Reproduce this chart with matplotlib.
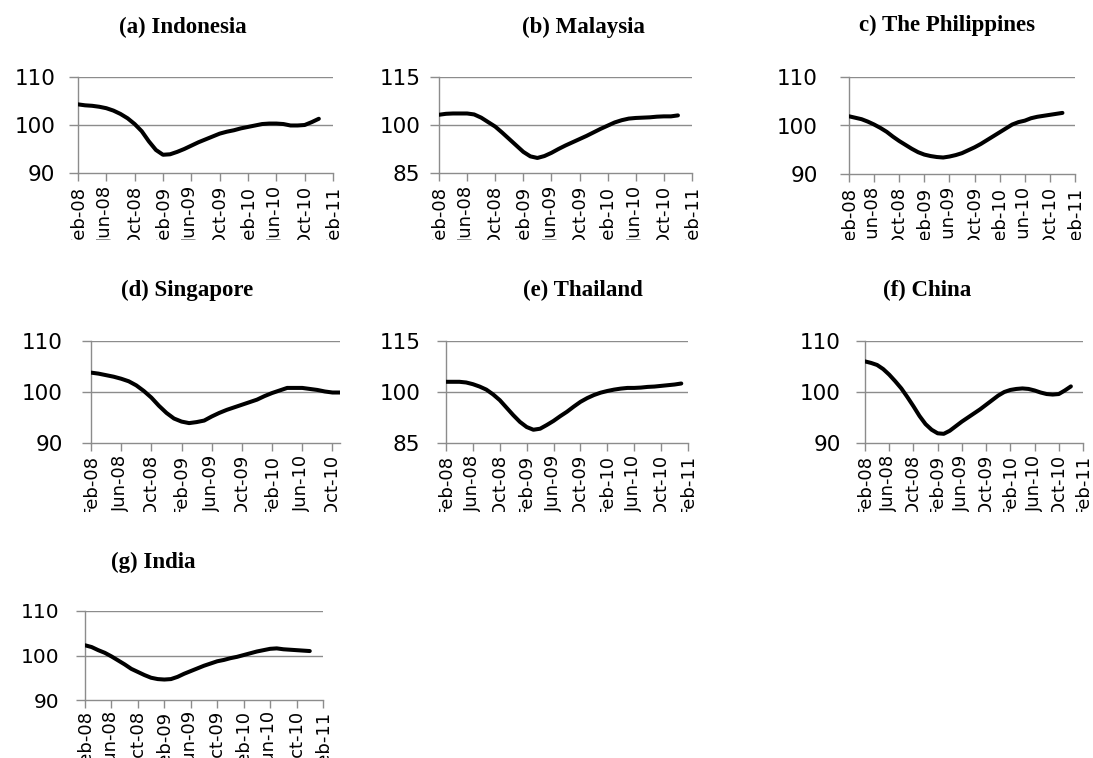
import matplotlib
matplotlib.use("Agg")
import matplotlib.pyplot as plt
from matplotlib.transforms import Bbox, TransformedBbox

# Monthly index values, starting Feb-08
indonesia = [104.3, 104.1, 104.0, 103.8, 103.5, 103.0, 102.3, 101.4, 100.2, 98.7,
             96.6, 94.8, 93.8, 93.9, 94.4, 95.0, 95.7, 96.4, 97.0, 97.6,
             98.2, 98.6, 98.9, 99.3, 99.6, 99.9, 100.2, 100.3, 100.3, 100.2,
             99.9, 99.9, 100.0, 100.6, 101.3]
malaysia = [103.2, 103.5, 103.6, 103.6, 103.6, 103.3, 102.3, 100.9, 99.5, 97.6,
            95.6, 93.6, 91.6, 90.2, 89.7, 90.3, 91.3, 92.5, 93.6, 94.6,
            95.6, 96.6, 97.7, 98.8, 99.8, 100.8, 101.5, 102.0, 102.2, 102.3,
            102.4, 102.6, 102.7, 102.7, 103.0]
philippines = [101.9, 101.6, 101.3, 100.8, 100.2, 99.5, 98.7, 97.7, 96.8, 96.0,
               95.2, 94.5, 94.0, 93.7, 93.5, 93.4, 93.6, 93.9, 94.3, 94.9,
               95.5, 96.2, 97.0, 97.8, 98.6, 99.4, 100.2, 100.7, 101.0, 101.5,
               101.8, 102.0, 102.2, 102.4, 102.6]
singapore = [103.8, 103.6, 103.3, 103.0, 102.6, 102.1, 101.3, 100.2, 98.9, 97.3,
             95.9, 94.8, 94.2, 93.9, 94.1, 94.4, 95.2, 95.9, 96.5, 97.0,
             97.5, 98.0, 98.5, 99.2, 99.8, 100.3, 100.8, 100.8, 100.8, 100.6,
             100.4, 100.1, 99.9, 99.9]
thailand = [103.0, 103.0, 103.0, 102.8, 102.3, 101.6, 100.7, 99.3, 97.6, 95.4,
            93.2, 91.2, 89.7, 88.9, 89.2, 90.3, 91.5, 92.9, 94.2, 95.7,
            97.1, 98.2, 99.1, 99.8, 100.3, 100.7, 101.0, 101.2, 101.2, 101.3,
            101.5, 101.6, 101.8, 102.0, 102.2, 102.5]
china = [106.0, 105.7, 105.3, 104.5, 103.4, 102.1, 100.7, 99.0, 97.2, 95.3,
         93.7, 92.6, 91.9, 91.8, 92.4, 93.3, 94.2, 95.0, 95.8, 96.6,
         97.5, 98.4, 99.3, 100.0, 100.4, 100.6, 100.7, 100.6, 100.3, 99.9,
         99.6, 99.5, 99.6, 100.3, 101.1]
india = [102.3, 101.9, 101.2, 100.6, 99.8, 98.9, 98.0, 97.0, 96.3, 95.6,
         95.0, 94.7, 94.6, 94.7, 95.2, 95.9, 96.5, 97.1, 97.7, 98.2,
         98.7, 99.0, 99.4, 99.7, 100.1, 100.5, 100.9, 101.2, 101.5, 101.6,
         101.4, 101.3, 101.2, 101.1, 101.0]

tick_labels = ["Feb-08", "Jun-08", "Oct-08", "Feb-09", "Jun-09", "Oct-09",
               "Feb-10", "Jun-10", "Oct-10", "Feb-11"]
titles = ["(a) Indonesia", "(b) Malaysia", "c) The Philippines", "(d) Singapore",
          "(e) Thailand", "(f) China", "(g) India"]

W, H = 1093, 758
fig = plt.figure(figsize=(W / 100, H / 100), dpi=100)
fig.patch.set_facecolor("white")

GRID = "#8c8c8c"

# panel layout in pixels: left, right, top, bottom, title centre, label clip line,
# tick label pads and y tick font size
panels = [
    dict(data=indonesia, yt=[90, 100, 110], box=(78, 333, 77, 173), tx=183, ty=27, clip=240, ypad=10, xpad=4.0, yfs=15.5, xmax=36),
    dict(data=malaysia, yt=[85, 100, 115], box=(439, 692, 77, 173), tx=583, ty=27, clip=240, ypad=7, xpad=4.0, yfs=15.5, xmax=36),
    dict(data=philippines, yt=[90, 100, 110], box=(849, 1075, 77, 174), tx=947, ty=25, clip=240, ypad=16, xpad=4.0, yfs=15.5, xmax=36),
    dict(data=singapore, yt=[90, 100, 110], box=(91, 340, 341, 443), tx=187, ty=290, clip=512, ypad=14, xpad=3.0, yfs=15.5, xmax=33),
    dict(data=thailand, yt=[85, 100, 115], box=(446, 688, 341, 443), tx=583, ty=290, clip=512, ypad=12, xpad=3.0, yfs=15.5, xmax=36),
    dict(data=china, yt=[90, 100, 110], box=(865, 1083, 341, 443), tx=927, ty=290, clip=512, ypad=11, xpad=3.0, yfs=15.5, xmax=36),
    dict(data=india, yt=[90, 100, 110], box=(85, 323, 611, 700), tx=153, ty=562, clip=758, ypad=12, xpad=2.0, yfs=14.5, xmax=36),
]

for p, title in zip(panels, titles):
    l, r, t, b = p["box"]
    ax = fig.add_axes([l / W, 1 - b / H, (r - l) / W, (b - t) / H])
    months = list(range(len(p["data"])))
    ax.plot(months, p["data"], color="black", lw=2.9, solid_capstyle="round",
            solid_joinstyle="round", zorder=3)
    ax.set_xlim(0, p["xmax"])
    ax.set_ylim(p["yt"][0], p["yt"][-1])
    ax.set_yticks(p["yt"])
    ax.set_yticklabels([str(v) for v in p["yt"]])
    xt = list(range(0, p["xmax"] + 1, 4))
    ax.set_xticks(xt)
    ax.set_xticklabels(tick_labels[:len(xt)])
    for yv in p["yt"][1:]:
        ax.axhline(yv, color=GRID, lw=1.0, zorder=1)
    for side in ["top", "right"]:
        ax.spines[side].set_visible(False)
    for side in ["left", "bottom"]:
        ax.spines[side].set_color(GRID)
        ax.spines[side].set_linewidth(1.0)
    ax.tick_params(axis="y", direction="out", length=6.5, width=1.0, color=GRID,
                   pad=p["ypad"], labelsize=p["yfs"])
    ax.tick_params(axis="x", direction="out", length=5.5, width=1.0, color=GRID,
                   pad=p["xpad"], labelsize=13)
    # x labels are cut off below a fixed line, as in the source layout
    clip = TransformedBbox(Bbox.from_extents(0, 1 - p["clip"] / H, 1, 1), fig.transFigure)
    for lab in ax.get_xticklabels():
        lab.set_rotation(90)
        lab.set_va("top")
        lab.set_ha("center")
        lab.set_fontfamily("DejaVu Sans")
        lab.set_clip_box(clip)
        lab.set_clip_on(True)
    for lab in ax.get_yticklabels():
        lab.set_fontfamily("DejaVu Sans")
    ax.set_facecolor("none")
    fig.text(p["tx"] / W, 1 - p["ty"] / H, title, ha="center", va="center",
             fontsize=16.5, fontweight="bold", family="Liberation Serif")

fig.savefig("out.png", dpi=100, facecolor="white")
